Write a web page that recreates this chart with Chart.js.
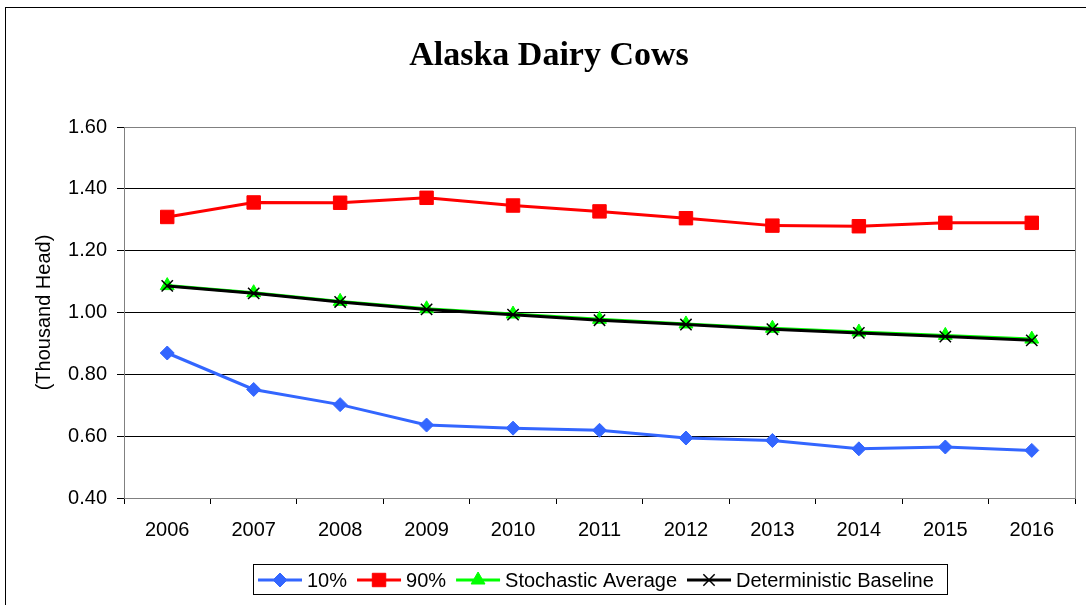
<!DOCTYPE html>
<html>
<head>
<meta charset="utf-8">
<title>Alaska Dairy Cows</title>
<script src="https://cdn.jsdelivr.net/npm/chart.js@4/dist/chart.umd.min.js"></script>
<style>
    body { margin: 0; background: #fff; }
    .wrap { position: relative; width: 1086px; height: 605px; overflow: hidden; }
    .frame { position: absolute; left: 5px; top: 7px; width: 1200px; height: 700px; border: 1px solid #000; box-sizing: border-box; }
    canvas { position: absolute; left: 0; top: 0; }
</style>
</head>
<body>
<div class="wrap">
    <div class="frame"></div>
    <canvas id="cowsChart" width="1086" height="605"></canvas>
</div>
<script>
// Chart data
const years = ['2006', '2007', '2008', '2009', '2010', '2011', '2012', '2013', '2014', '2015', '2016'];
const pct10 = [0.869, 0.751, 0.702, 0.636, 0.626, 0.619, 0.594, 0.586, 0.559, 0.565, 0.554];
const pct90 = [1.309, 1.356, 1.355, 1.371, 1.346, 1.327, 1.305, 1.281, 1.279, 1.290, 1.290];
const stochAvg = [1.087, 1.064, 1.036, 1.012, 0.995, 0.978, 0.963, 0.949, 0.937, 0.926, 0.914];
const detBaseline = [1.086, 1.062, 1.034, 1.010, 0.993, 0.975, 0.961, 0.946, 0.934, 0.922, 0.910];
const yTicks = [0.40, 0.60, 0.80, 1.00, 1.20, 1.40, 1.60];

const FONT = "'Liberation Sans', Arial, sans-serif";

// Legend drawn as one boxed row below the axis
const boxLegend = {
    id: 'boxLegend',
    afterDraw(chart) {
        const ctx = chart.ctx;
        const items = chart.data.datasets;
        ctx.save();
        ctx.font = '20px ' + FONT;
        ctx.textBaseline = 'middle';
        ctx.textAlign = 'left';

        ctx.strokeStyle = '#000';
        ctx.lineWidth = 1;
        ctx.strokeRect(253.5, 564.5, 694, 30);

        let x = 258;
        const y = 580;
        items.forEach(ds => {
            ctx.strokeStyle = ds.borderColor;
            ctx.lineWidth = 3;
            ctx.beginPath();
            ctx.moveTo(x, y);
            ctx.lineTo(x + 44, y);
            ctx.stroke();
            // drawPoint uses whatever fill/stroke is on the context
            ctx.fillStyle = ds.pointBackgroundColor;
            ctx.strokeStyle = ds.pointBorderColor;
            ctx.lineWidth = ds.pointBorderWidth || 1;
            Chart.helpers.drawPoint(ctx, {
                pointStyle: ds.pointStyle,
                radius: ds.pointRadius,
                borderWidth: ds.pointBorderWidth || 1
            }, x + 22, y);
            x += 49;
            ctx.fillStyle = '#000';
            ctx.fillText(ds.label, x, y + 1);
            x += ctx.measureText(ds.label).width + 10;
        });
        ctx.restore();
    },
    beforeDatasetsDraw(chart) {
        // gray plot-area frame like the spreadsheet original
        const a = chart.chartArea;
        const ctx = chart.ctx;
        ctx.save();
        ctx.strokeStyle = '#808080';
        ctx.lineWidth = 1;
        ctx.strokeRect(Math.round(a.left) + 0.5, Math.round(a.top) + 0.5, Math.round(a.right - a.left), Math.round(a.bottom - a.top));
        ctx.restore();
    }
};

function series(label, data, color, style, radius, order, extra) {
    return Object.assign({
        label: label,
        data: data,
        borderColor: color,
        backgroundColor: color,
        borderWidth: 3,
        pointStyle: style,
        pointRadius: radius,
        pointHoverRadius: radius,
        pointBackgroundColor: color,
        pointBorderColor: color,
        pointBorderWidth: 1,
        tension: 0,
        order: order
    }, extra || {});
}

const datasets = [
    series('10%', pct10, 'rgb(51,102,255)', 'rectRot', 7, 3),
    series('90%', pct90, '#ff0000', 'rect', 9.5, 2),
    series('Stochastic Average', stochAvg, '#00ff00', 'triangle', 8, 1),
    series('Deterministic Baseline', detBaseline, '#000000', 'crossRot', 8, 0, { pointBorderWidth: 1.5 })
];

new Chart(document.getElementById('cowsChart'), {
    type: 'line',
    data: { labels: years, datasets: datasets },
    plugins: [boxLegend],
    options: {
        responsive: false,
        animation: false,
        events: [],
        layout: { padding: { left: 23, right: 11, top: 0, bottom: 67 } },
        plugins: {
            legend: { display: false },
            tooltip: { enabled: false },
            title: {
                display: true,
                text: 'Alaska Dairy Cows',
                color: '#000',
                font: { family: "'Liberation Serif', 'Times New Roman', serif", size: 34, weight: 'bold', lineHeight: 1.2 },
                padding: { top: 36, bottom: 50.2 }
            }
        },
        scales: {
            x: {
                offset: true,
                grid: { offset: true, drawOnChartArea: false, drawTicks: true, tickLength: 6, color: '#000' },
                border: { color: '#000', width: 1 },
                ticks: { color: '#000', font: { family: FONT, size: 20 }, padding: 14, maxRotation: 0 },
                afterFit(scale) { scale.height = 40; }
            },
            y: {
                min: 0.4,
                max: 1.6,
                afterBuildTicks(scale) { scale.ticks = yTicks.map(v => ({ value: v })); },
                grid: { color: '#000', lineWidth: 1, tickLength: 7 },
                border: { color: '#000', width: 1 },
                ticks: {
                    color: '#000',
                    font: { family: FONT, size: 20 },
                    padding: 10,
                    callback: v => v.toFixed(2)
                },
                title: {
                    display: true,
                    text: '(Thousand Head)',
                    color: '#000',
                    font: { family: FONT, size: 20, lineHeight: 1.2 },
                    padding: { top: 9, bottom: 0 }
                },
                afterFit(scale) { scale.width = 101; }
            }
        }
    }
});
</script>
</body>
</html>
